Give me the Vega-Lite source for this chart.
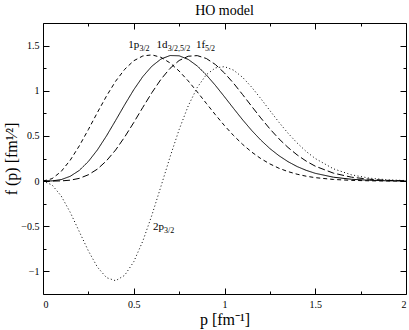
{
  "$schema": "https://vega.github.io/schema/vega-lite/v6.json",
  "width": 363,
  "height": 271,
  "autosize": "none",
  "padding": {"left": 43, "top": 23, "right": 3, "bottom": 36},
  "title": {"text": "HO model", "font": "Liberation Serif", "fontSize": 14, "fontWeight": "normal", "color": "black", "offset": 5, "anchor": "middle"},
  "config": {
    "view": {"stroke": "black", "strokeWidth": 1},
    "axis": {"grid": false, "domain": false, "labelFont": "Liberation Serif", "labelFontSize": 10, "labelColor": "black", "tickColor": "black", "titleFont": "Liberation Serif", "titleFontWeight": "normal", "titleColor": "black", "titleFontSize": 16}
  },
  "datasets": {
    "curves": [
      {"p": 0, "f": 0, "s": "1p"}, {"p": 0.05, "f": 0.027, "s": "1p"}, {"p": 0.1, "f": 0.106, "s": "1p"}, {"p": 0.15, "f": 0.231, "s": "1p"}, {"p": 0.2, "f": 0.390, "s": "1p"}, {"p": 0.25, "f": 0.571, "s": "1p"}, {"p": 0.3, "f": 0.760, "s": "1p"}, {"p": 0.35, "f": 0.942, "s": "1p"}, {"p": 0.4, "f": 1.105, "s": "1p"}, {"p": 0.45, "f": 1.237, "s": "1p"}, {"p": 0.5, "f": 1.332, "s": "1p"}, {"p": 0.55, "f": 1.385, "s": "1p"}, {"p": 0.6, "f": 1.397, "s": "1p"}, {"p": 0.65, "f": 1.370, "s": "1p"}, {"p": 0.7, "f": 1.308, "s": "1p"}, {"p": 0.75, "f": 1.218, "s": "1p"}, {"p": 0.8, "f": 1.109, "s": "1p"}, {"p": 0.85, "f": 0.987, "s": "1p"}, {"p": 0.9, "f": 0.860, "s": "1p"}, {"p": 0.95, "f": 0.734, "s": "1p"}, {"p": 1.0, "f": 0.614, "s": "1p"}, {"p": 1.05, "f": 0.504, "s": "1p"}, {"p": 1.1, "f": 0.406, "s": "1p"}, {"p": 1.15, "f": 0.321, "s": "1p"}, {"p": 1.2, "f": 0.249, "s": "1p"}, {"p": 1.25, "f": 0.190, "s": "1p"}, {"p": 1.3, "f": 0.142, "s": "1p"}, {"p": 1.35, "f": 0.105, "s": "1p"}, {"p": 1.4, "f": 0.076, "s": "1p"}, {"p": 1.45, "f": 0.054, "s": "1p"}, {"p": 1.5, "f": 0.038, "s": "1p"}, {"p": 1.6, "f": 0.018, "s": "1p"}, {"p": 1.7, "f": 0.008, "s": "1p"}, {"p": 1.8, "f": 0.003, "s": "1p"}, {"p": 1.9, "f": 0.001, "s": "1p"}, {"p": 2.0, "f": 0.0, "s": "1p"},
      {"p": 0, "f": 0, "s": "1d"}, {"p": 0.05, "f": 0.002, "s": "1d"}, {"p": 0.1, "f": 0.016, "s": "1d"}, {"p": 0.15, "f": 0.053, "s": "1d"}, {"p": 0.2, "f": 0.118, "s": "1d"}, {"p": 0.25, "f": 0.217, "s": "1d"}, {"p": 0.3, "f": 0.346, "s": "1d"}, {"p": 0.35, "f": 0.501, "s": "1d"}, {"p": 0.4, "f": 0.671, "s": "1d"}, {"p": 0.45, "f": 0.845, "s": "1d"}, {"p": 0.5, "f": 1.011, "s": "1d"}, {"p": 0.55, "f": 1.157, "s": "1d"}, {"p": 0.6, "f": 1.272, "s": "1d"}, {"p": 0.65, "f": 1.351, "s": "1d"}, {"p": 0.7, "f": 1.390, "s": "1d"}, {"p": 0.75, "f": 1.387, "s": "1d"}, {"p": 0.8, "f": 1.347, "s": "1d"}, {"p": 0.85, "f": 1.274, "s": "1d"}, {"p": 0.9, "f": 1.175, "s": "1d"}, {"p": 0.95, "f": 1.059, "s": "1d"}, {"p": 1.0, "f": 0.933, "s": "1d"}, {"p": 1.05, "f": 0.804, "s": "1d"}, {"p": 1.1, "f": 0.678, "s": "1d"}, {"p": 1.15, "f": 0.560, "s": "1d"}, {"p": 1.2, "f": 0.454, "s": "1d"}, {"p": 1.25, "f": 0.360, "s": "1d"}, {"p": 1.3, "f": 0.281, "s": "1d"}, {"p": 1.35, "f": 0.215, "s": "1d"}, {"p": 1.4, "f": 0.161, "s": "1d"}, {"p": 1.45, "f": 0.119, "s": "1d"}, {"p": 1.5, "f": 0.086, "s": "1d"}, {"p": 1.6, "f": 0.043, "s": "1d"}, {"p": 1.7, "f": 0.020, "s": "1d"}, {"p": 1.8, "f": 0.009, "s": "1d"}, {"p": 1.9, "f": 0.003, "s": "1d"}, {"p": 2.0, "f": 0.001, "s": "1d"},
      {"p": 0, "f": 0, "s": "1f"}, {"p": 0.05, "f": 0.0, "s": "1f"}, {"p": 0.1, "f": 0.002, "s": "1f"}, {"p": 0.15, "f": 0.010, "s": "1f"}, {"p": 0.2, "f": 0.030, "s": "1f"}, {"p": 0.25, "f": 0.070, "s": "1f"}, {"p": 0.3, "f": 0.133, "s": "1f"}, {"p": 0.35, "f": 0.225, "s": "1f"}, {"p": 0.4, "f": 0.344, "s": "1f"}, {"p": 0.45, "f": 0.488, "s": "1f"}, {"p": 0.5, "f": 0.648, "s": "1f"}, {"p": 0.55, "f": 0.816, "s": "1f"}, {"p": 0.6, "f": 0.979, "s": "1f"}, {"p": 0.65, "f": 1.127, "s": "1f"}, {"p": 0.7, "f": 1.248, "s": "1f"}, {"p": 0.75, "f": 1.335, "s": "1f"}, {"p": 0.8, "f": 1.382, "s": "1f"}, {"p": 0.85, "f": 1.389, "s": "1f"}, {"p": 0.9, "f": 1.357, "s": "1f"}, {"p": 0.95, "f": 1.290, "s": "1f"}, {"p": 1.0, "f": 1.196, "s": "1f"}, {"p": 1.05, "f": 1.083, "s": "1f"}, {"p": 1.1, "f": 0.957, "s": "1f"}, {"p": 1.15, "f": 0.827, "s": "1f"}, {"p": 1.2, "f": 0.699, "s": "1f"}, {"p": 1.25, "f": 0.578, "s": "1f"}, {"p": 1.3, "f": 0.468, "s": "1f"}, {"p": 1.35, "f": 0.372, "s": "1f"}, {"p": 1.4, "f": 0.290, "s": "1f"}, {"p": 1.45, "f": 0.221, "s": "1f"}, {"p": 1.5, "f": 0.165, "s": "1f"}, {"p": 1.6, "f": 0.088, "s": "1f"}, {"p": 1.7, "f": 0.043, "s": "1f"}, {"p": 1.8, "f": 0.020, "s": "1f"}, {"p": 1.9, "f": 0.008, "s": "1f"}, {"p": 2.0, "f": 0.003, "s": "1f"},
      {"p": 0, "f": 0, "s": "2p"}, {"p": 0.05, "f": -0.043, "s": "2p"}, {"p": 0.1, "f": -0.164, "s": "2p"}, {"p": 0.15, "f": -0.346, "s": "2p"}, {"p": 0.2, "f": -0.560, "s": "2p"}, {"p": 0.25, "f": -0.773, "s": "2p"}, {"p": 0.3, "f": -0.953, "s": "2p"}, {"p": 0.35, "f": -1.069, "s": "2p"}, {"p": 0.4, "f": -1.103, "s": "2p"}, {"p": 0.45, "f": -1.043, "s": "2p"}, {"p": 0.5, "f": -0.893, "s": "2p"}, {"p": 0.55, "f": -0.664, "s": "2p"}, {"p": 0.6, "f": -0.377, "s": "2p"}, {"p": 0.65, "f": -0.058, "s": "2p"}, {"p": 0.7, "f": 0.267, "s": "2p"}, {"p": 0.75, "f": 0.570, "s": "2p"}, {"p": 0.8, "f": 0.832, "s": "2p"}, {"p": 0.85, "f": 1.037, "s": "2p"}, {"p": 0.9, "f": 1.178, "s": "2p"}, {"p": 0.95, "f": 1.253, "s": "2p"}, {"p": 1.0, "f": 1.267, "s": "2p"}, {"p": 1.05, "f": 1.228, "s": "2p"}, {"p": 1.1, "f": 1.148, "s": "2p"}, {"p": 1.15, "f": 1.039, "s": "2p"}, {"p": 1.2, "f": 0.913, "s": "2p"}, {"p": 1.25, "f": 0.781, "s": "2p"}, {"p": 1.3, "f": 0.651, "s": "2p"}, {"p": 1.35, "f": 0.530, "s": "2p"}, {"p": 1.4, "f": 0.422, "s": "2p"}, {"p": 1.45, "f": 0.328, "s": "2p"}, {"p": 1.5, "f": 0.250, "s": "2p"}, {"p": 1.6, "f": 0.136, "s": "2p"}, {"p": 1.7, "f": 0.069, "s": "2p"}, {"p": 1.8, "f": 0.032, "s": "2p"}, {"p": 1.9, "f": 0.014, "s": "2p"}, {"p": 2.0, "f": 0.006, "s": "2p"}
    ],
    "labels": [
      {"p": 0.47, "f": 1.47, "t": "1p"},
      {"p": 0.626, "f": 1.47, "t": "1d"},
      {"p": 0.843, "f": 1.47, "t": "1f"},
      {"p": 0.606, "f": -0.537, "t": "2p"}
    ],
    "subs": [
      {"p": 0.531, "f": 1.47, "t": "3/2"},
      {"p": 0.688, "f": 1.47, "t": "3/2,5/2"},
      {"p": 0.892, "f": 1.47, "t": "5/2"},
      {"p": 0.667, "f": -0.537, "t": "3/2"}
    ]
  },
  "resolve": {"axis": {"x": "independent", "y": "independent"}},
  "layer": [
    {
      "data": {"name": "curves"},
      "mark": {"type": "line", "color": "black", "strokeWidth": 1},
      "encoding": {
        "x": {"field": "p", "type": "quantitative", "scale": {"domain": [0, 2], "nice": false, "zero": false},
              "axis": {"orient": "bottom", "values": [0, 0.5, 1, 1.5, 2], "format": "~g", "tickSize": -6, "labelPadding": 11, "title": "p [fm⁻¹]", "titlePadding": 2}},
        "y": {"field": "f", "type": "quantitative", "scale": {"domain": [-1.25, 1.75], "nice": false, "zero": false},
              "axis": {"orient": "left", "values": [-1, -0.5, 0, 0.5, 1, 1.5], "format": "~g", "tickSize": -6, "labelPadding": 10, "title": "f (p) [fm¹⁄²]", "titlePadding": 1}},
        "detail": {"field": "s"},
        "strokeDash": {"field": "s", "type": "nominal", "legend": null,
                       "scale": {"domain": ["1p", "1d", "1f", "2p"], "range": [[4, 3], [1, 0], [7, 3], [1, 2.5]]}}
      }
    },
    {
      "mark": {"type": "rule", "color": "black", "strokeWidth": 1},
      "encoding": {
        "x": {"datum": 0, "type": "quantitative", "axis": {"orient": "top", "values": [0, 0.5, 1, 1.5, 2], "tickSize": -6, "labels": false, "title": null}},
        "x2": {"datum": 2},
        "y": {"datum": 0, "type": "quantitative", "axis": {"orient": "right", "values": [-1, -0.5, 0, 0.5, 1, 1.5], "tickSize": -6, "labels": false, "title": null}}
      }
    },
    {
      "data": {"name": "labels"},
      "mark": {"type": "text", "align": "left", "baseline": "alphabetic", "font": "Liberation Serif", "fontSize": 11, "color": "black"},
      "encoding": {
        "x": {"field": "p", "type": "quantitative", "axis": {"orient": "bottom", "values": [0.25, 0.75, 1.25, 1.75], "tickSize": -3, "labels": false, "title": null}},
        "y": {"field": "f", "type": "quantitative", "axis": {"orient": "left", "values": [-0.75, -0.25, 0.25, 0.75, 1.25], "tickSize": -3, "labels": false, "title": null}},
        "text": {"field": "t"}
      }
    },
    {
      "data": {"name": "subs"},
      "mark": {"type": "text", "align": "left", "baseline": "alphabetic", "font": "Liberation Serif", "fontSize": 8, "color": "black", "dy": 3},
      "encoding": {
        "x": {"field": "p", "type": "quantitative", "axis": {"orient": "top", "values": [0.25, 0.75, 1.25, 1.75], "tickSize": -3, "labels": false, "title": null}},
        "y": {"field": "f", "type": "quantitative", "axis": {"orient": "right", "values": [-0.75, -0.25, 0.25, 0.75, 1.25], "tickSize": -3, "labels": false, "title": null}},
        "text": {"field": "t"}
      }
    }
  ]
}
